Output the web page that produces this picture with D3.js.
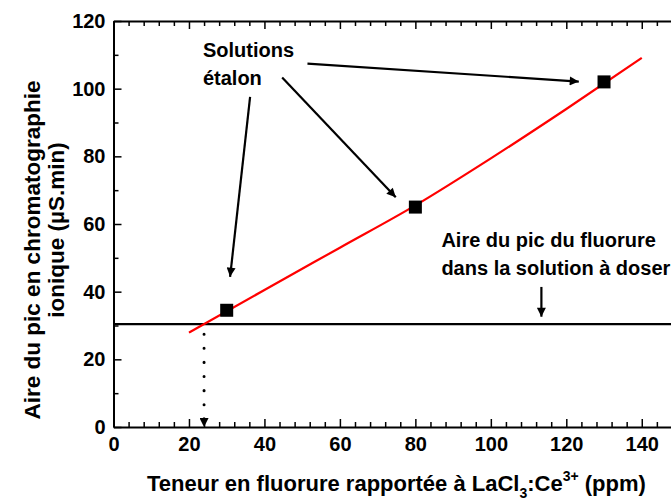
<!DOCTYPE html>
<html>
<head>
<meta charset="utf-8">
<script src="https://cdnjs.cloudflare.com/ajax/libs/d3/7.8.5/d3.min.js"></script>
<style>
  body { margin: 0; background: #fff; }
  svg { display: block; font-family: "Liberation Sans", Arial, sans-serif; font-weight: bold; }
</style>
</head>
<body>
<div id="chart"></div>
<script>
// standards (ppm, µS.min)
const stdX = [30, 80, 130];
const stdY = [34.5, 65, 102];

// red calibration curve
const fitX = [20, 40, 60, 80, 100, 120, 140];
const fitY = [27.9, 40.5, 53, 65.5, 79.4, 94, 109.1];

// peak area of the unknown sample, and its read-off concentration
const sampleArea = 30.4;
const sampleConc = 24;

const xTicks = [0, 20, 40, 60, 80, 100, 120, 140];
const yTicks = [0, 20, 40, 60, 80, 100, 120];

const W = 671, H = 500;
const margin = { top: 21, left: 113.5 };
const plotW = 566, plotH = 406;

const svg = d3.select("#chart").append("svg").attr("width", W).attr("height", H);
const g = svg.append("g").attr("transform", "translate(" + margin.left + "," + margin.top + ")");

const x = d3.scaleLinear().domain([0, 150]).range([0, plotW]);
const y = d3.scaleLinear().domain([0, 120]).range([plotH, 0]);

svg.append("defs").append("marker")
  .attr("id", "head").attr("viewBox", "0 0 10 10")
  .attr("refX", 10).attr("refY", 5)
  .attr("markerWidth", 16).attr("markerHeight", 9)
  .attr("markerUnits", "userSpaceOnUse")
  .attr("orient", "auto")
  .append("path").attr("d", "M0,0 L10,5 L0,10 Z").attr("fill", "#000");

// axes with inward ticks, mirrored on top/right
function styleAxis(sel) {
  sel.select(".domain").attr("stroke-width", 2);
  sel.selectAll(".tick line").attr("stroke-width", 1.5);
}
const minorX = d3.range(0, 151, 4).filter(v => v % 20 !== 0);
const minorY = d3.range(10, 120, 20);

const axB = g.append("g").attr("transform", "translate(0," + plotH + ")")
  .call(d3.axisBottom(x).tickValues(xTicks).tickSizeInner(-8).tickSizeOuter(0).tickPadding(10));
axB.selectAll("text").style("font-size", "20px").attr("fill", "#000").attr("font-family", null);
styleAxis(axB);
g.append("g").attr("transform", "translate(0," + plotH + ")")
  .call(d3.axisBottom(x).tickValues(minorX).tickSize(-5).tickFormat(""))
  .call(s => s.select(".domain").remove()).call(styleAxis);

const axT = g.append("g")
  .call(d3.axisTop(x).tickValues(xTicks).tickSizeInner(-8).tickSizeOuter(0).tickFormat(""));
styleAxis(axT);
g.append("g").call(d3.axisTop(x).tickValues(minorX).tickSize(-5).tickFormat(""))
  .call(s => s.select(".domain").remove()).call(styleAxis);

const axL = g.append("g")
  .call(d3.axisLeft(y).tickValues(yTicks).tickSizeInner(-8).tickSizeOuter(0).tickPadding(8));
axL.selectAll("text").style("font-size", "20px").attr("fill", "#000").attr("font-family", null);
styleAxis(axL);
g.append("g").call(d3.axisLeft(y).tickValues(minorY).tickSize(-5).tickFormat(""))
  .call(s => s.select(".domain").remove()).call(styleAxis);

const axR = g.append("g").attr("transform", "translate(" + plotW + ",0)")
  .call(d3.axisRight(y).tickValues(yTicks).tickSizeInner(-8).tickSizeOuter(0).tickFormat(""));
styleAxis(axR);

// horizontal line at the sample peak area
g.append("line")
  .attr("x1", x(0)).attr("x2", x(150))
  .attr("y1", y(sampleArea)).attr("y2", y(sampleArea))
  .attr("stroke", "#000").attr("stroke-width", 2.2);

// calibration curve
const pts = fitX.map((v, i) => [v, fitY[i]]);
g.append("path")
  .datum(pts)
  .attr("fill", "none").attr("stroke", "#ff0000").attr("stroke-width", 2.2)
  .attr("d", d3.line().x(d => x(d[0])).y(d => y(d[1])).curve(d3.curveMonotoneX));

// standards
g.selectAll(".std").data(stdX).enter().append("rect")
  .attr("x", d => x(d) - 6.5).attr("y", (d, i) => y(stdY[i]) - 6.5)
  .attr("width", 13).attr("height", 13).attr("fill", "#000");

// dotted drop line to the x axis
g.append("line")
  .attr("x1", x(sampleConc)).attr("x2", x(sampleConc))
  .attr("y1", y(sampleArea) + 10).attr("y2", y(0))
  .attr("stroke", "#000").attr("stroke-width", 3)
  .attr("stroke-linecap", "round").attr("stroke-dasharray", "0.1,14")
  .attr("marker-end", "url(#head)");

// annotation arrows [x1, y1, x2, y2] in data units
const arrows = [
  [36.2, 97.6, 30.9, 44.4],
  [44.7, 103.3, 74.8, 67.9],
  [51.4, 107.4, 123.3, 102.1],
  [113.4, 41.4, 113.4, 32.6]
];
g.selectAll(".arr").data(arrows).enter().append("line")
  .attr("x1", d => x(d[0])).attr("y1", d => y(d[1]))
  .attr("x2", d => x(d[2])).attr("y2", d => y(d[3]))
  .attr("stroke", "#000").attr("stroke-width", 2.2)
  .attr("marker-end", "url(#head)");

function label(lines, xv, yv, dy) {
  const t = g.append("text").attr("x", x(xv)).attr("y", y(yv)).style("font-size", "20px");
  lines.forEach((s, i) => t.append("tspan").attr("x", x(xv)).attr("dy", i ? dy : 0).text(s));
}
label(["Solutions", "étalon"], 23.7, 109.3, 28);
label(["Aire du pic du fluorure", "dans la solution à doser"], 86.9, 53.1, 27.5);

// axis titles
const xt = svg.append("text").attr("x", 147).attr("y", 491).style("font-size", "22px");
xt.append("tspan").text("Teneur en fluorure rapportée à LaCl");
xt.append("tspan").attr("dy", 7).style("font-size", "14px").text("3");
xt.append("tspan").attr("dy", -7).text(":Ce");
xt.append("tspan").attr("dy", -10).style("font-size", "14px").text("3+");
xt.append("tspan").attr("dy", 10).text(" (ppm)");

svg.append("text").attr("transform", "translate(40,250) rotate(-90)")
  .attr("text-anchor", "middle").style("font-size", "22.5px")
  .text("Aire du pic en chromatographie");
svg.append("text").attr("transform", "translate(64,230) rotate(-90)")
  .attr("text-anchor", "middle").style("font-size", "22.5px")
  .text("ionique (µS.min)");
</script>
</body>
</html>
